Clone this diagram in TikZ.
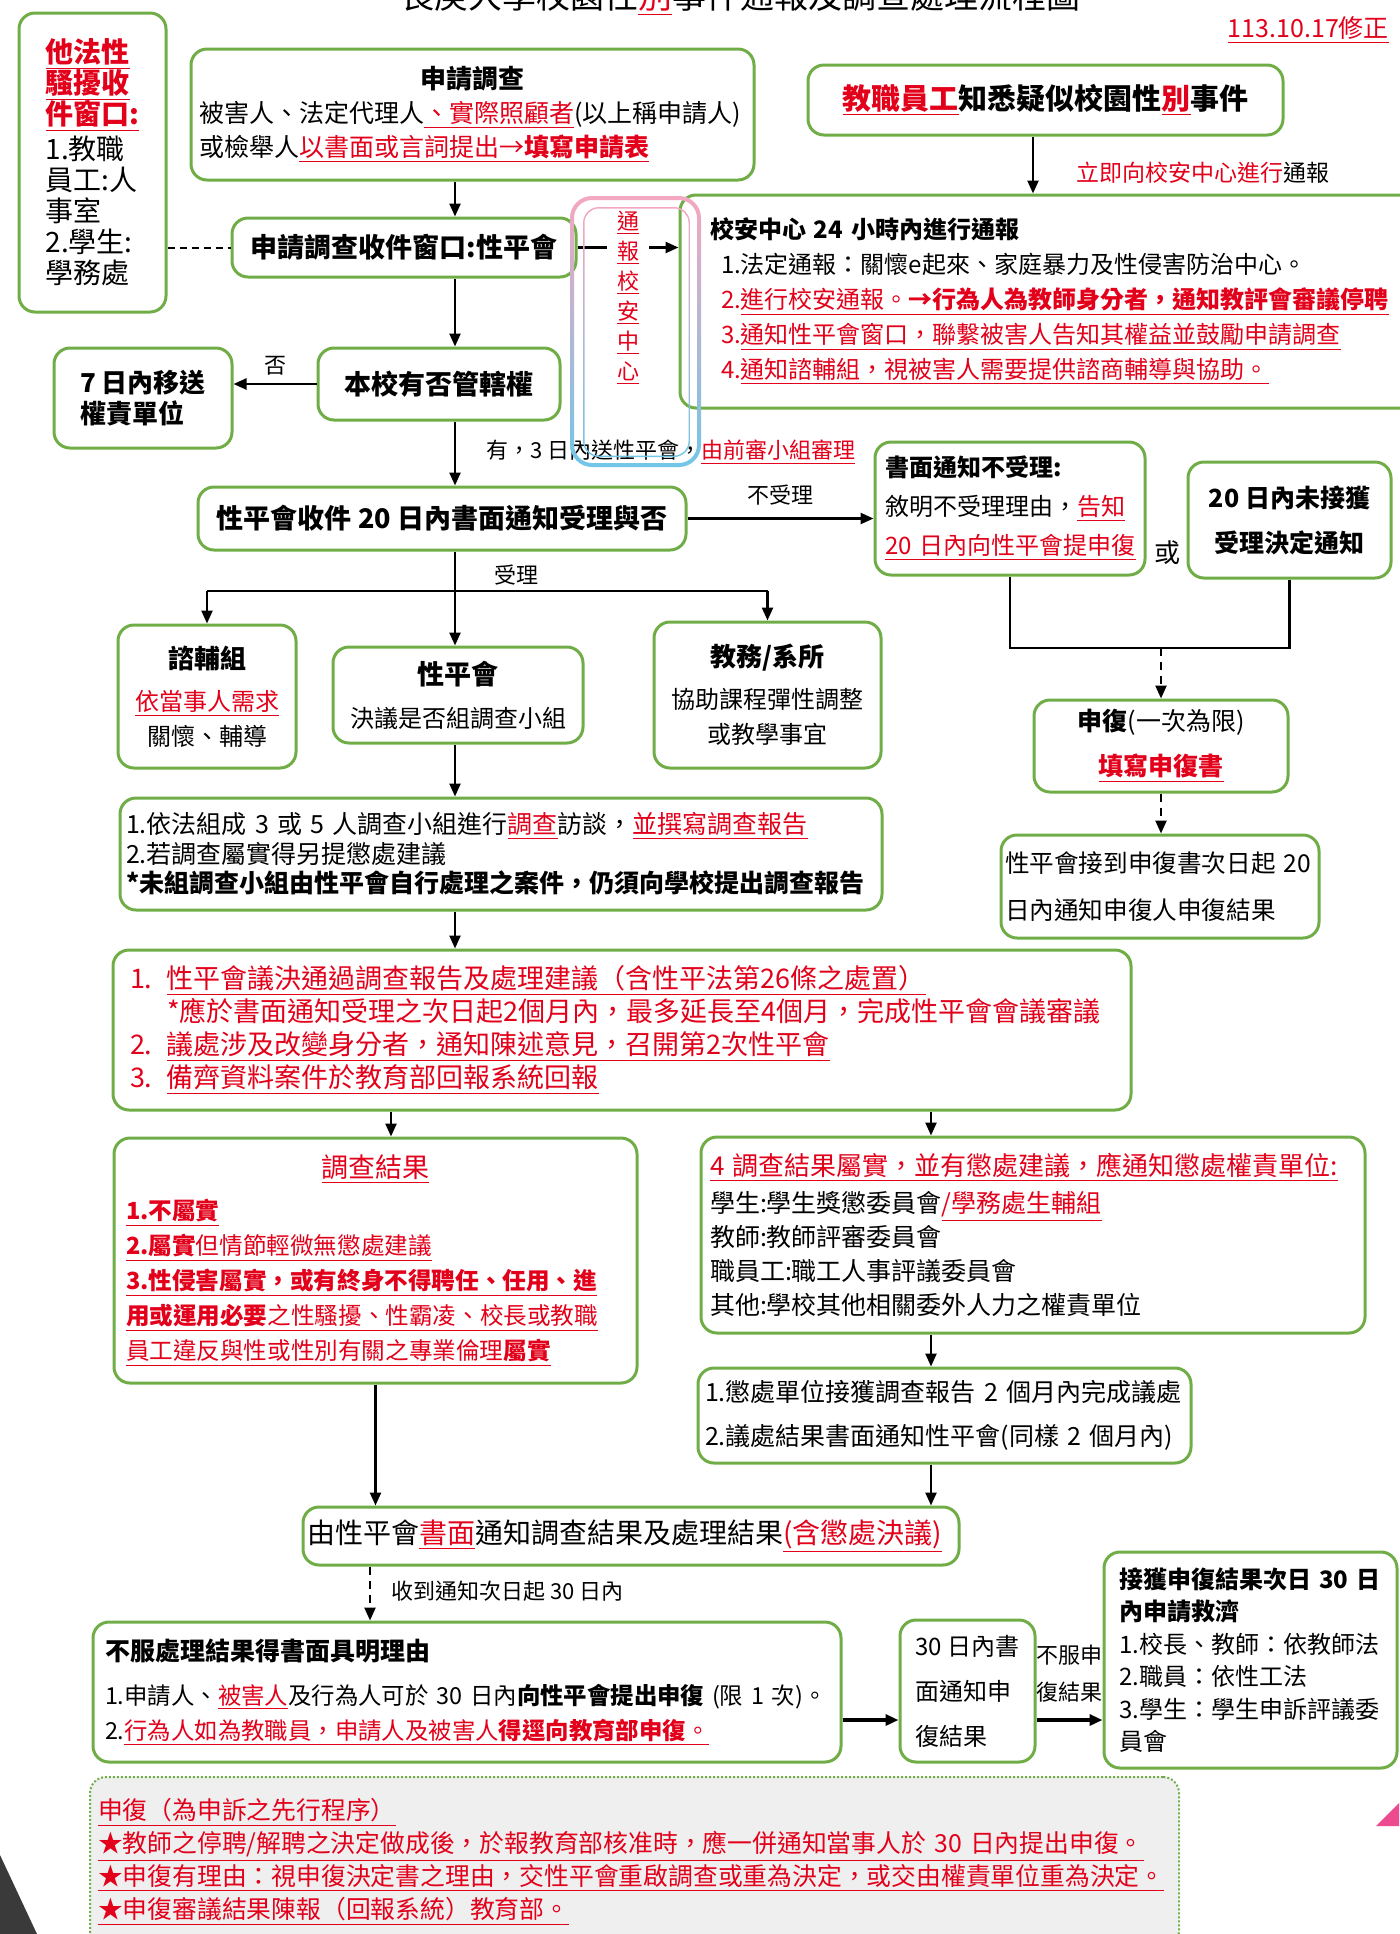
\documentclass[tikz,border=0pt]{standalone}
\usepackage{fontspec}
\setmainfont{Noto Sans CJK TC}
\usepackage{xcolor}
\usetikzlibrary{arrows.meta,calc,positioning}
\definecolor{fgreen}{HTML}{70AD47}
\definecolor{fred}{HTML}{E2001A}
\definecolor{fgray}{HTML}{EFEFEF}
\definecolor{fpink}{HTML}{F4A7C0}
\definecolor{fblue}{HTML}{72C6E7}
\definecolor{fdark}{HTML}{3A3A3A}
\definecolor{fmag}{HTML}{EC4B8F}
\newcommand{\rline}[1]{\textcolor{fred}{\underline{#1}}}
\newcommand{\rtxt}[1]{\textcolor{fred}{#1}}
\tikzset{
  >={Triangle[length=6.5pt,width=5.5pt]},
  fbox/.style={draw=fgreen, line width=1.5pt, rounded corners=8pt, fill=white, inner sep=0pt},
  fline/.style={black, line width=1.2pt},
  farrow/.style={fline, ->},
  fdarrow/.style={fline, ->, dash pattern=on 4pt off 3pt},
  flbl/.style={font=\fontsize{11}{13}\selectfont, inner sep=1pt},
}

\begin{document}
\begin{tikzpicture}[x=0.5pt,y=-0.5pt]
  \useasboundingbox (0,0) rectangle (1399,1934);

  % heading, cut off at the top
  \node[font=\fontsize{17}{20}\selectfont] (title) at (740,-2)
       {長庚大學校園性\rline{別}事件通報及調查處理流程圖};
  \node[text=fred, font=\fontsize{12.5}{14}\selectfont, anchor=east] (date) at (1396,30)
       {\underline{113.10.17修正}};

  \coordinate (trunk) at (455,0);
  \coordinate (cB) at (1033,0);
  \coordinate (cL) at (391,0);
  \coordinate (cR) at (931,0);
  \coordinate (cV) at (370,0);
  \coordinate (cW) at (0,1720);
  \coordinate (fork) at (455,591);
  \coordinate (jn) at (1161,648);

  \node[fbox, minimum width=73.5pt, minimum height=149.5pt, align=left,
        font=\fontsize{14}{15.5}\selectfont] (wind) at (92.5,162.5)
       {\rline{\textbf{他法性}}\\\rline{\textbf{騷擾收}}\\\rline{\textbf{件窗口:}}\\[2pt]
        1.教職\\員工:人\\事室\\2.學生:\\學務處};
  \node[fbox, minimum height=65.5pt, text width=273.5pt, inner xsep=4pt, align=left,
        font=\fontsize{12.5}{17}\selectfont] (apply) at (472.5,114.5)
       {\makebox[\linewidth]{\fontsize{13}{17}\selectfont\textbf{申請調查}}\\
        被害人、法定代理人\rline{、實際照顧者}(以上稱申請人)\\
        或檢舉人\rline{以書面或言詞提出→\textbf{填寫申請表}}};
  \node[fbox, minimum width=237.5pt, minimum height=35pt,
        font=\fontsize{14.5}{16}\selectfont\bfseries] (aware) at (1045.5,100)
       {\rline{教職員工}知悉疑似校園性\rline{別}事件};
  \node[fbox, minimum width=172pt, minimum height=29.5pt,
        font=\fontsize{13.5}{15}\selectfont\bfseries] (window) at (404,247.5)
       {申請調查收件窗口:性平會};
  \node[fbox, minimum height=106.5pt, text width=342.5pt, inner xsep=15pt, align=left,
        font=\fontsize{12}{17.5}\selectfont] (safety) at (1052.5,301.5)
       {\textbf{校安中心 24 小時內進行通報}\\
        \hspace*{5.5pt}1.法定通報：關懷e起來、家庭暴力及性侵害防治中心。\\
        \hspace*{5.5pt}\rtxt{2.\underline{進行校安通報。\textbf{→行為人為教師身分者，通知教評會審議停聘}}}\\
        \hspace*{5.5pt}\rtxt{3.\underline{通知性平會窗口，聯繫被害人告知其權益並鼓勵申請調查}}\\
        \hspace*{5.5pt}\rtxt{4.\underline{通知諮輔組，視被害人需要提供諮商輔導與協助。}}};
  \node[fbox, minimum width=89pt, minimum height=50pt, align=left,
        font=\fontsize{13}{15.5}\selectfont\bfseries] (transfer) at (143,398)
       {7 日內移送\\權責單位};
  \node[fbox, minimum width=121pt, minimum height=36pt,
        font=\fontsize{13.5}{16}\selectfont\bfseries] (juris) at (439,384)
       {本校有否管轄權};
  \node[fbox, minimum width=244pt, minimum height=31.5pt,
        font=\fontsize{13.5}{16}\selectfont\bfseries] (recv) at (442,518.5)
       {性平會收件 20 日內書面通知受理與否};
  \node[fbox, minimum height=66.5pt, text width=125pt, inner xsep=5pt, align=left,
        font=\fontsize{12}{19.5}\selectfont] (reject) at (1010,508.5)
       {\textbf{書面通知不受理:}\\敘明不受理理由，\rline{告知}\\\rline{20~日內向性平會提申復}};
  \node[font=\fontsize{13}{15}\selectfont] (huo) at (1167,553) {或};
  \node[fbox, minimum width=101.5pt, minimum height=58pt, align=center,
        font=\fontsize{12.5}{22.5}\selectfont\bfseries] (nonotice) at (1289.5,520)
       {20 日內未接獲\\受理決定通知};
  \node[fbox, minimum width=127pt, minimum height=46pt, align=center,
        font=\fontsize{12.5}{22.5}\selectfont] (appeal) at (1161,746)
       {\textbf{申復}(一次為限)\\\rline{\textbf{填寫申復書}}};
  \node[fbox, minimum height=51.5pt, text width=155pt, inner xsep=2pt, align=left,
        font=\fontsize{12.3}{23.5}\selectfont] (result) at (1160,886.5)
       {性平會接到申復書次日起~20\\日內通知申復人申復結果};
  \node[fbox, minimum width=89pt, minimum height=71.5pt, align=center,
        font=\fontsize{12}{17.5}\selectfont] (counsel) at (207,696.5)
       {\textbf{\fontsize{13}{17.5}\selectfont 諮輔組}\\[3.5pt]\rline{依當事人需求}\\關懷、輔導};
  \node[fbox, minimum width=125pt, minimum height=48pt, align=center,
        font=\fontsize{12}{21.5}\selectfont] (council) at (458,695)
       {\textbf{\fontsize{13.5}{21.5}\selectfont 性平會}\\決議是否組調查小組};
  \node[fbox, minimum width=113.5pt, minimum height=73pt, align=center,
        font=\fontsize{12}{17.5}\selectfont] (dept) at (767.5,695)
       {\textbf{\fontsize{13}{17.5}\selectfont 教務/系所}\\[3.5pt]協助課程彈性調整\\或教學事宜};
  \node[fbox, minimum height=56pt, text width=375pt, inner xsep=3pt, align=left,
        font=\fontsize{12.5}{14.75}\selectfont] (panel) at (501,854)
       {1.依法組成 3 或 5 人調查小組進行\rline{調查}訪談，\rline{並撰寫調查報告}\\
        2.若調查屬實得另提懲處建議\\
        \textbf{*未組調查小組由性平會自行處理之案件，仍須向學校提出調查報告}};
  \node[fbox, minimum height=80pt, text width=492pt, inner xsep=8.5pt, align=left, text=fred,
        font=\fontsize{13.5}{16.5}\selectfont] (decide) at (622,1030)
       {\makebox[18.5pt][l]{1.}\underline{性平會議決通過調查報告及處理建議（含性平法第26條之處置）}\\
        \hspace*{18.5pt}*應於書面通知受理之次日起2個月內，最多延長至4個月，完成性平會會議審議\\
        \makebox[18.5pt][l]{2.}\underline{議處涉及改變身分者，通知陳述意見，召開第2次性平會}\\
        \makebox[18.5pt][l]{3.}\underline{備齊資料案件於教育部回報系統回報}};
  \node[fbox, minimum height=122.5pt, text width=249.5pt, inner xsep=6pt, align=left, text=fred,
        font=\fontsize{11.8}{17.5}\selectfont] (finding) at (375.5,1260.5)
       {\makebox[\linewidth]{\fontsize{13.5}{17.5}\selectfont\underline{調查結果}}\\[3.5pt]
        \underline{\textbf{1.不屬實}}\\
        \underline{\textbf{2.屬實}但情節輕微無懲處建議}\\
        \underline{\textbf{3.性侵害屬實，或有終身不得聘任、任用、進}}\\
        \underline{\textbf{用或運用必要}之性騷擾、性霸凌、校長或教職}\\
        \underline{員工違反與性或性別有關之專業倫理\textbf{屬實}}};
  \node[fbox, minimum height=98pt, text width=323pt, inner xsep=4.5pt, align=left,
        font=\fontsize{12.5}{17}\selectfont] (punish) at (1033,1235)
       {\rline{\fontsize{13}{17}\selectfont 4 調查結果屬實，並有懲處建議，應通知懲處權責單位:}\\[1.5pt]
        學生:學生獎懲委員會\rline{/學務處生輔組}\\
        教師:教師評審委員會\\
        職員工:職工人事評議委員會\\
        其他:學校其他相關委外人力之權責單位};
  \node[fbox, minimum height=47.5pt, text width=239.5pt, inner xsep=3.5pt, align=left,
        font=\fontsize{12.5}{22}\selectfont] (execute) at (944.5,1415.5)
       {1.懲處單位接獲調查報告 2 個月內完成議處\\2.議處結果書面通知性平會(同樣 2 個月內)};
  \node[fbox, minimum height=29pt, text width=324pt, inner xsep=2pt, align=left,
        font=\fontsize{14}{16}\selectfont] (notify) at (631,1536)
       {由性平會\rline{書面}通知調查結果及處理結果\rline{(含懲處決議)}};
  \node[fbox, minimum height=70pt, text width=362pt, inner xsep=6pt, align=left,
        font=\fontsize{11.7}{17.5}\selectfont] (objection) at (467,1692)
       {\textbf{\fontsize{12.5}{17.5}\selectfont 不服處理結果得書面具明理由}\\[4.5pt]
        1.申請人、\rline{被害人}及行為人可於~30~日內\textbf{向性平會提出申復}~(限~1~次)。\\
        2.\rline{行為人如為教職員，申請人及被害人\textbf{得逕向教育部申復}。}};
  \node[fbox, minimum width=67.5pt, minimum height=71pt, align=left,
        font=\fontsize{12}{22.5}\selectfont] (reply) at (967.5,1691)
       {30 日內書\\面通知申\\復結果};
  \node[fbox, minimum height=108pt, text width=131.5pt, inner xsep=7.5pt, align=left,
        font=\fontsize{12}{16.25}\selectfont] (relief) at (1250.5,1660)
       {\textbf{接獲申復結果次日~30~日}\\\textbf{內申請救濟}\\
        1.校長、教師：依教師法\\2.職員：依性工法\\3.學生：學生申訴評議委\\員會};
  \node[fbox, fill=fgray, line width=1pt, dash pattern=on 1pt off 1pt, minimum height=85pt,
        text width=536.5pt, inner xsep=4pt, align=left, text=fred,
        font=\fontsize{12.4}{16.5}\selectfont] (note) at (634.5,1862)
       {\underline{申復（為申訴之先行程序）}\\
        \underline{★教師之停聘/解聘之決定做成後，於報教育部核准時，應一併通知當事人於 30 日內提出申復。}\\
        \underline{★申復有理由：視申復決定書之理由，交性平會重啟調查或重為決定，或交由權責單位重為決定。}\\
        \underline{★申復審議結果陳報（回報系統）教育部。}};

  % top part
  \draw[fline, dash pattern=on 3.5pt off 2.5pt, line width=1pt] (window.west -| wind.east) -- (window.west);
  \draw[farrow] (apply.south -| trunk) -- (window.north -| trunk);
  \draw[farrow] (aware.south -| cB) -- node[flbl, right=20pt, pos=0.63, font=\fontsize{11.5}{13}\selectfont]
       {\rtxt{立即向校安中心進行}通報} (safety.north -| cB);
  \draw[farrow] (window.east) -- node[pos=0.5, yshift=-25pt, fill=white, inner xsep=5pt, inner ysep=2pt,
       text=fred, align=center, font=\fontsize{11}{15}\selectfont] (tongbao)
       {\underline{通}\\\underline{報}\\\underline{校}\\\underline{安}\\\underline{中}\\\underline{心}}
       (window.east -| safety.west);
  \draw[farrow] (window.south -| trunk) -- (juris.north -| trunk);
  \draw[farrow] (juris.west) -- node[flbl, above=3pt] {否} (juris.west -| transfer.east);
  \draw[farrow] (juris.south -| trunk) -- node[flbl, right=14pt, pos=0.48]
       {有，3 日內送性平會，\rline{由前審小組審理}} (recv.north -| trunk);

  % acceptance or not
  \draw[farrow] (recv.east) -- node[flbl, above=5pt] {不受理} (recv.east -| reject.west);
  \draw[fline] (reject.south) |- (jn);
  \draw[fline] (nonotice.south) |- (jn);
  \draw[fdarrow] (jn) -- (appeal.north);
  \draw[fdarrow] (appeal.south) -- (appeal.south |- result.north);

  \draw[fline] (recv.south -| trunk) -- node[flbl, right=18pt, pos=0.6] {受理} (fork);
  \draw[fline] (counsel.north |- fork) -- (dept.north |- fork);
  \draw[farrow] (counsel.north |- fork) -- (counsel.north);
  \draw[farrow] (fork) -- (council.north -| fork);
  \draw[farrow] (dept.north |- fork) -- (dept.north);

  % investigation
  \draw[farrow] (council.south -| trunk) -- (panel.north -| trunk);
  \draw[farrow] (panel.south -| trunk) -- (decide.north -| trunk);
  \draw[farrow] (decide.south -| cL) -- (finding.north -| cL);
  \draw[farrow] (decide.south -| cR) -- (punish.north -| cR);
  \draw[farrow] (punish.south -| cR) -- (execute.north -| cR);
  \draw[farrow] (finding.south) -- (finding.south |- notify.north);
  \draw[farrow] (execute.south -| cR) -- (notify.north -| cR);

  % appeal after the result
  \draw[fdarrow] (notify.south -| cV) -- node[flbl, right=9pt, pos=0.45]
       {收到通知次日起 30 日內} (objection.north -| cV);
  \draw[farrow, line width=2pt] (objection.east |- cW) -- (reply.west |- cW);
  \draw[farrow, line width=2pt] (reply.east |- cW) -- node[flbl, above=7pt, align=left,
       font=\fontsize{11}{18.5}\selectfont] {不服申\\復結果} (relief.west |- cW);

  % pink-blue frame round the report note
  \shade[top color=fpink, bottom color=fblue, even odd rule]
        [rounded corners=11pt] (570,196) rectangle (701,467)
        [rounded corners=9pt] (574,200) rectangle (697,463);
  \shade[top color=fpink, bottom color=fblue, even odd rule]
        [rounded corners=8pt] (583,207) rectangle (690,457)
        [rounded corners=7pt] (584.5,208.5) rectangle (688.5,455.5);

  % slide corners
  \fill[fdark] (0,1855) -- (37,1934) -- (0,1934) -- cycle;
  \fill[fmag] (1399,1803) -- (1376,1826) -- (1399,1826) -- cycle;

\end{tikzpicture}
\end{document}
